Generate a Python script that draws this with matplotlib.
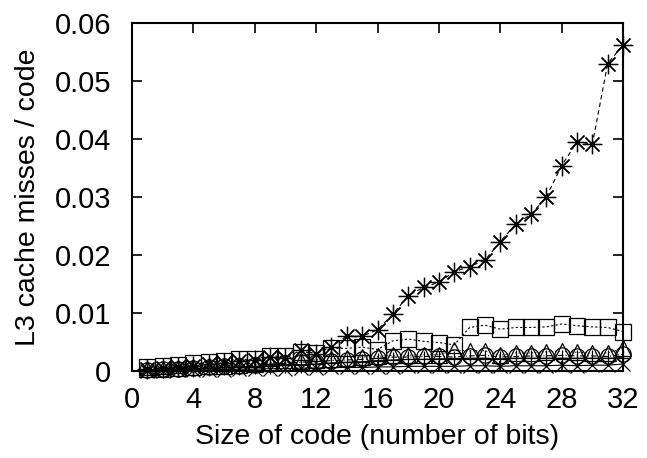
import matplotlib
matplotlib.use('Agg')
import matplotlib.pyplot as plt
import numpy as np
from matplotlib.ticker import FuncFormatter

plt.rcParams['font.family'] = ['Liberation Sans', 'DejaVu Sans']

bits = np.arange(1, 33)

star = [0.0004, 0.0005, 0.0007, 0.0009, 0.0012, 0.0014, 0.0017, 0.0019, 0.0024, 0.0022,
        0.0036, 0.0030, 0.0042, 0.0060, 0.0060, 0.0071, 0.0098, 0.0130, 0.0144, 0.0153,
        0.0171, 0.0180, 0.0191, 0.0223, 0.0253, 0.0270, 0.0300, 0.0354, 0.0395, 0.0391,
        0.0530, 0.0562]
square = [0.0006, 0.0008, 0.0010, 0.0013, 0.0015, 0.0018, 0.0020, 0.0020, 0.0026, 0.0025,
          0.0033, 0.0031, 0.0039, 0.0039, 0.0041, 0.0037, 0.0052, 0.0055, 0.0051, 0.0049,
          0.0045, 0.0075, 0.0079, 0.0072, 0.0075, 0.0075, 0.0076, 0.0081, 0.0078, 0.0076,
          0.0075, 0.0068]
triangle = [0.0003, 0.0004, 0.0005, 0.0006, 0.0008, 0.0009, 0.0011, 0.0012, 0.0014, 0.0015,
            0.0017, 0.0019, 0.0021, 0.0023, 0.0024, 0.0025, 0.0027, 0.0027, 0.0028, 0.0028,
            0.0036, 0.0035, 0.0035, 0.0027, 0.0031, 0.0031, 0.0033, 0.0034, 0.0032, 0.0031,
            0.0031, 0.0039]
circle = [0.0002, 0.0003, 0.0004, 0.0005, 0.0006, 0.0008, 0.0009, 0.0010, 0.0012, 0.0013,
          0.0015, 0.0016, 0.0018, 0.0019, 0.0020, 0.0022, 0.0024, 0.0024, 0.0025, 0.0025,
          0.0024, 0.0026, 0.0027, 0.0024, 0.0025, 0.0026, 0.0026, 0.0027, 0.0026, 0.0026,
          0.0025, 0.0029]
plus = [0.0001, 0.0002, 0.0003, 0.0004, 0.0005, 0.0006, 0.0007, 0.0008, 0.0009, 0.0010,
        0.0011, 0.0012, 0.0014, 0.0015, 0.0016, 0.0018, 0.0019, 0.0020, 0.0020, 0.0021,
        0.0021, 0.0022, 0.0022, 0.0021, 0.0022, 0.0022, 0.0022, 0.0022, 0.0022, 0.0022,
        0.0022, 0.0023]
cross = [0.0000, 0.0000, 0.0001, 0.0001, 0.0002, 0.0002, 0.0003, 0.0003, 0.0004, 0.0004,
         0.0005, 0.0005, 0.0006, 0.0006, 0.0006, 0.0007, 0.0007, 0.0008, 0.0008, 0.0008,
         0.0008, 0.0009, 0.0009, 0.0008, 0.0009, 0.0009, 0.0009, 0.0010, 0.0009, 0.0010,
         0.0010, 0.0012]

xticks = [0, 4, 8, 12, 16, 20, 24, 28, 32]
yticks = [0, 0.01, 0.02, 0.03, 0.04, 0.05, 0.06]

fig = plt.figure(figsize=(6.47, 4.58), dpi=100)
ax = fig.add_axes([0.204, 0.190, 0.759, 0.760])

common = dict(color='black', lw=0.8, mfc='none', mew=0.9, clip_on=False)
ax.plot(bits, plus, marker='+', ms=12, ls='-', **common)
ax.plot(bits, cross, marker='x', ms=10, ls='-', **common)
ax.plot(bits, star, marker=(8, 2, 0), ms=14, ls=(0, (4, 3)), **common)
ax.plot(bits, square, marker='s', ms=11, ls=(0, (2, 2)), **common)
ax.plot(bits, circle, marker='o', ms=11, ls=(0, (5, 2, 1, 2)), **common)
ax.plot(bits, triangle, marker='^', ms=11, ls=(0, (1, 2)), **common)

ax.set_xlim(0, 32)
ax.set_ylim(0, 0.06)
ax.set_xticks(xticks)
ax.set_yticks(yticks)
ax.yaxis.set_major_formatter(FuncFormatter(lambda v, p: '0' if v == 0 else '%.2f' % v))
ax.tick_params(direction='in', length=7, width=1.2, top=True, right=True,
               labelsize=21)
ax.tick_params(axis='x', pad=11)
ax.tick_params(axis='y', pad=15)
for s in ax.spines.values():
    s.set_linewidth(1.5)

ax.set_xlabel('Size of code (number of bits)', fontsize=20.5, labelpad=7)
ax.set_ylabel('L3 cache misses / code', fontsize=20.5, labelpad=10)

fig.savefig('out.png', dpi=100)
